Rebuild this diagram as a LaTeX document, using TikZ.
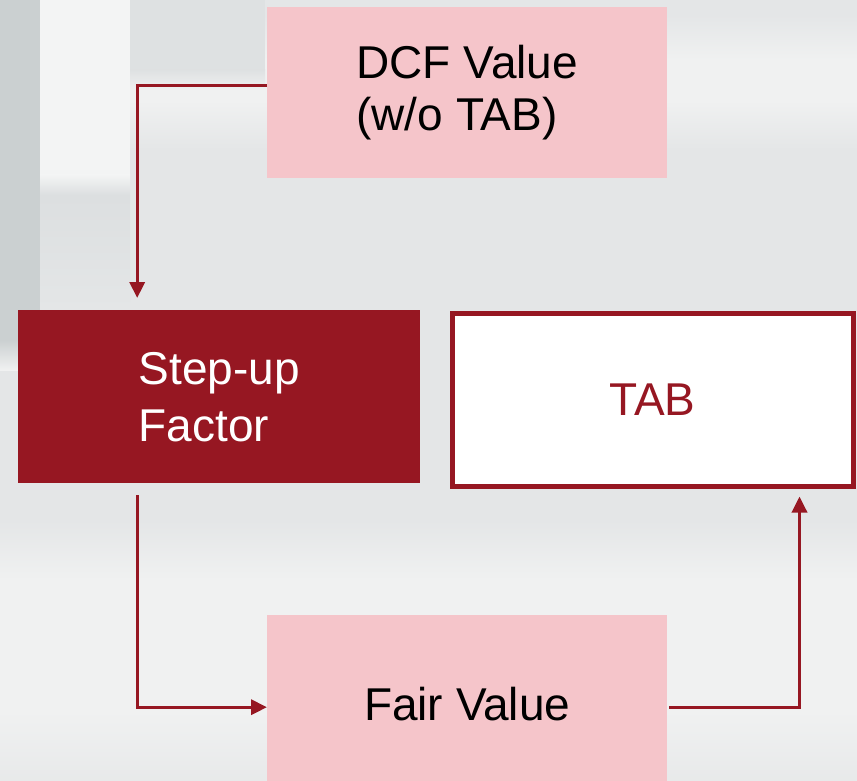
\documentclass[tikz,border=0pt]{standalone}
\usepackage{fontspec}
\setmainfont{Liberation Sans}
\usetikzlibrary{arrows.meta}
\definecolor{wine}{HTML}{961722}
\definecolor{blush}{HTML}{F5C5CA}
\definecolor{bgmid}{HTML}{E4E6E7}
\definecolor{bglight}{HTML}{F0F1F1}
\definecolor{bgwhite}{HTML}{F3F4F4}
\definecolor{bgdark}{HTML}{CBD0D1}
\definecolor{bgshade}{HTML}{DCDFE0}
\begin{document}
\begin{tikzpicture}[x=1pt,y=-1pt,
  box/.style={anchor=north west, inner sep=0pt, align=left,
    font=\fontsize{46}{52}\selectfont},
  conn/.style={draw=wine, line width=3.4pt,
    -{Triangle[width=15pt,length=16pt]}}]
  % soft photographic backdrop
  \useasboundingbox (0,0) rectangle (857,781);
  \fill[bgmid] (0,0) rectangle (857,781);
  \shade[top color=bgmid, bottom color=bglight] (0,15) rectangle (857,60);
  \fill[bglight] (0,60) rectangle (857,100);
  \shade[top color=bglight, bottom color=bgmid] (0,100) rectangle (857,150);
  \fill[bgshade!70!bgmid] (130,0) rectangle (265,70);
  \shade[top color=bgshade!70!bgmid, bottom color=bglight] (130,70) rectangle (265,90);
  \fill[bgwhite] (40,0) rectangle (130,175);
  \shade[top color=bgwhite, bottom color=bgshade] (40,175) rectangle (130,195);
  \shade[top color=bgshade, bottom color=bgmid] (40,195) rectangle (130,310);
  \fill[bgdark] (0,0) rectangle (40,340);
  \shade[top color=bgdark, bottom color=bglight] (0,340) rectangle (18,370);
  \shade[top color=bgmid, bottom color=bglight] (0,520) rectangle (857,580);
  \fill[bglight] (0,580) rectangle (857,710);
  \shade[top color=bglight, bottom color=bgmid!70!bglight] (0,710) rectangle (857,781);
  % boxes
  \node[box, fill=blush, minimum width=400pt, minimum height=171pt]
    (dcf) at (267,7) {DCF Value\\(w/o TAB)};
  \node[box, fill=wine, text=white, minimum width=402pt, minimum height=173pt,
    font=\fontsize{46}{57}\selectfont]
    (step) at (18,310) {Step-up\\Factor};
  \node[box, fill=white, draw=wine, line width=5pt, text=wine,
    minimum width=401pt, minimum height=173pt] (tab) at (449.5,310.5) {TAB};
  \node[box, fill=blush, minimum width=400pt, minimum height=177pt]
    (fair) at (267,615) {Fair Value};
  % connectors
  \coordinate (dcfout) at ([yshift=7pt]dcf.west);
  \coordinate (stepin) at ([xshift=-82pt,yshift=12pt]step.north);
  \coordinate (stepout) at ([xshift=-82pt,yshift=-12pt]step.south);
  \coordinate (fairin) at ([yshift=-3.5pt]fair.west);
  \coordinate (fairout) at ([xshift=2pt,yshift=-3.5pt]fair.east);
  \coordinate (tabin) at ([xshift=147pt,yshift=-8pt]tab.south);
  \draw[conn] (dcfout) -| (stepin);
  \draw[conn] (stepout) |- (fairin);
  \draw[conn] (fairout) -| (tabin);
\end{tikzpicture}
\end{document}
